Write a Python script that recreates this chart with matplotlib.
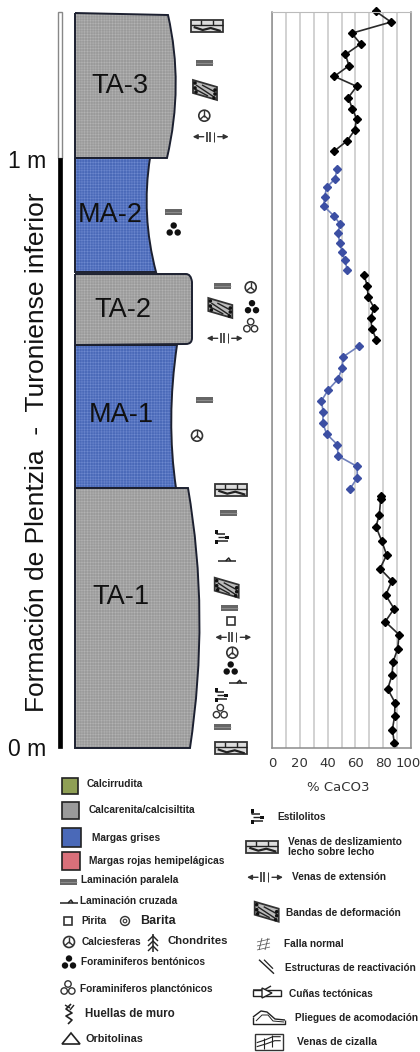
import matplotlib
matplotlib.use('Agg')
import matplotlib.pyplot as plt
from matplotlib.patches import PathPatch, Rectangle, Circle, Polygon
from matplotlib.path import Path

plt.rcParams['font.family'] = ['Liberation Sans', 'DejaVu Sans']

# CaCO3 curve, split by unit (height in m, % CaCO3)
ta3_h = [1.248, 1.230, 1.211, 1.193, 1.175, 1.156, 1.138, 1.121, 1.102, 1.083, 1.066, 1.047, 1.029, 1.011]
ta3_v = [74.8, 85.6, 57.3, 63.8, 52.8, 55.4, 44.8, 60.9, 54.9, 57.8, 60.9, 59.5, 54.2, 44.6]
ma2_h = [.981, .964, .950, .934, .918, .902, .888, .872, .856, .841, .827, .810]
ma2_v = [46.8, 45.3, 39.3, 37.9, 37.2, 44.4, 48.9, 47.5, 48.7, 50.4, 52.3, 54.2]
ta2_h = [.801, .783, .764, .746, .728, .710, .692]
ta2_v = [66.2, 68.6, 69.1, 73.4, 71.0, 71.9, 75.1]
ma1_h = [.681, .663, .644, .625, .607, .588, .569, .551, .532, .514, .495, .477, .458, .439]
ma1_v = [62.6, 51.3, 50.4, 47.5, 40.5, 35.5, 36.9, 36.5, 39.3, 47.0, 47.5, 61.2, 61.4, 56.1]
ta1_h = [.427, .422, .395, .375, .351, .327, .304, .283, .259, .236, .214, .192, .168, .146, .123, .100, .077, .054, .031, .009]
ta1_v = [78.2, 78.2, 77.2, 74.8, 78.9, 82.5, 77.7, 86.3, 81.8, 87.8, 81.5, 91.4, 90.4, 87.1, 86.3, 83.2, 88.5, 88.2, 86.6, 88.0]

unit_names = ['TA-3', 'MA-2', 'TA-2', 'MA-1', 'TA-1']
x_ticks = [0, 20, 40, 60, 80, 100]

GREY = '#9a9a9a'
BLUE = '#4a69b8'
RED = '#d9707a'
OLIVE = '#8f9f55'
TXT = '#222222'

fig = plt.figure(figsize=(4.2, 10.52), dpi=100)

# everything schematic is drawn in image pixels
bg = fig.add_axes([0, 0, 1, 1])
bg.set_xlim(0, 420)
bg.set_ylim(1052, 0)
bg.axis('off')


def column(verts, codes, fc):
    p = Path(verts, codes)
    hatch_col = '#b4b4b4' if fc == GREY else '#6f8ad0'
    bg.add_patch(PathPatch(p, fc=fc, ec=hatch_col, hatch='++++++', lw=0, zorder=2))
    bg.add_patch(PathPatch(p, fc='none', ec='#1c2030', lw=1.4, zorder=3))


M, L, C3, Z = Path.MOVETO, Path.LINETO, Path.CURVE3, Path.CLOSEPOLY
plt.rcParams['hatch.linewidth'] = 0.35

column([(75, 13), (168, 15), (184, 85), (167, 158), (75, 158), (75, 13)],
       [M, L, C3, C3, L, L], GREY)
column([(75, 158), (150, 158), (141, 215), (156, 272), (75, 272), (75, 158)],
       [M, L, C3, C3, L, L], BLUE)
column([(75, 274), (186, 274), (191, 274), (192, 282), (192, 338), (192, 344), (186, 344), (75, 345), (75, 274)],
       [M, L, C3, C3, L, C3, C3, L, L], GREY)
column([(75, 345), (177, 345), (166, 420), (176, 488), (75, 488), (75, 345)],
       [M, L, C3, C3, L, L], BLUE)
column([(75, 488), (188, 488), (210, 615), (190, 748), (75, 748), (75, 488)],
       [M, L, C3, C3, L, L], GREY)

for name, xc, yc in zip(unit_names, [120, 110, 123, 121, 121], [86, 215, 310, 415, 597]):
    bg.text(xc, yc, name, fontsize=19.5, ha='center', va='center', color='#111111', zorder=5)

# scale bar
bg.add_patch(Rectangle((57.5, 12), 4.5, 146, fc='white', ec='#888888', lw=1))
bg.add_patch(Rectangle((57.5, 158), 4.5, 590, fc='black', ec='black', lw=0.5))
bg.text(27.5, 161, '1 m', fontsize=16.5, ha='center', va='center', color='#111111')
bg.text(27.5, 749, '0 m', fontsize=16.5, ha='center', va='center', color='#111111')
bg.text(37, 452, 'Formación de Plentzia  -  Turoniense inferior', fontsize=19, rotation=90,
        ha='center', va='center', color='#111111')


# lithology / structure symbols
def line(xs, ys, lw=1, c='#222222'):
    bg.plot(xs, ys, color=c, lw=lw, solid_capstyle='butt', zorder=6)


def lam(x, y):
    bg.add_patch(Rectangle((x - 8.5, y - 3), 17, 6, fc='#666666', ec='none', zorder=6))
    line([x - 8.5, x + 8.5], [y, y], 0.4, '#aaaaaa')


def calci(x, y, r=5.5):
    bg.add_patch(Circle((x, y), r, fc='none', ec='#333333', lw=1.2, zorder=6))
    line([x, x], [y - r, y + 1], 1, '#333333')
    line([x - r * .75, x], [y + r * .65, y], 1, '#333333')
    line([x + r * .75, x], [y + r * .65, y], 1, '#333333')


def benth(x, y, r=3.2):
    for dx, dy in [(0, -4.5), (-4, 2.5), (4, 2.5)]:
        bg.add_patch(Circle((x + dx, y + dy), r, fc='#111111', ec='none', zorder=6))


def plank(x, y, r=3.2):
    for dx, dy in [(0, -5), (-3.8, 2), (3.8, 2)]:
        bg.add_patch(Circle((x + dx, y + dy), r, fc='white', ec='#333333', lw=1, zorder=6))


def venas(x, y):
    bg.add_patch(Rectangle((x - 16, y - 6), 32, 12, fc='#dddddd', ec='#333333', lw=1.3, zorder=6))
    line([x - 16, x + 16], [y - 1, y - 1], 1)
    line([x - 6, x - 6], [y - 6, y - 1], 1)
    line([x + 6, x + 6], [y - 6, y - 1], 1)
    line([x - 13, x - 4, x + 4, x + 14], [y + 1, y + 4, y + 2, y + 5], 1.6)


def bandas(x, y):
    bg.add_patch(Polygon([(x - 12, y - 10), (x + 12, y - 3), (x + 12, y + 10), (x - 12, y + 3)],
                         fc='#bbbbbb', ec='#333333', lw=1.3, zorder=6))
    line([x - 9, x + 9], [y - 5, y + 7], 1)
    line([x - 3, x + 10], [y - 5, y + 2], 1)
    line([x - 10, x + 3], [y - 1, y + 6], 1)
    for dx, dy in [(-10, -7), (-10, -2), (-9, 2), (10, 0), (10, 4), (9, 8)]:
        bg.add_patch(Circle((x + dx, y + dy), 1.8, fc='#111111', ec='none', zorder=7))


def ext(x, y):
    arrow = dict(arrowstyle='-|>', color='#333333', lw=1, mutation_scale=7, shrinkA=0, shrinkB=0)
    bg.annotate('', (x - 18, y), (x - 7, y), arrowprops=arrow)
    bg.annotate('', (x + 18, y), (x + 7, y), arrowprops=arrow)
    for dx, lw in [(-4, 1.2), (-1, 1.2), (3, 0.7)]:
        line([x + dx, x + dx], [y - 5, y + 5], lw, '#333333')


def estil(x, y):
    line([x - 6, x - 6, x + 2], [y - 7, y - 3, y - 3], 1.1)
    line([x - 6, x - 6, x + 5], [y + 7, y + 4, y + 4], 1.1)
    bg.add_patch(Rectangle((x - 7.5, y - 7.5), 3, 4, fc='#111111', zorder=6))
    bg.add_patch(Rectangle((x - 7.5, y + 3), 3, 4, fc='#111111', zorder=6))
    bg.add_patch(Rectangle((x + 2, y - 1), 4, 3, fc='#111111', zorder=6))
    line([x - 5, x + 3], [y, y], 1)


def cross(x, y):
    line([x - 9, x + 9], [y + 1, y + 1], 1.1)
    line([x - 1, x + 2, x + 4], [y + 1, y - 2, y + 1], 1.1)


def pirita(x, y, s=4):
    bg.add_patch(Rectangle((x - s, y - s), 2 * s, 2 * s, fc='white', ec='#333333', lw=1.2, zorder=6))


def barita(x, y):
    bg.add_patch(Circle((x, y), 4.5, fc='none', ec='#333333', lw=1, zorder=6))
    bg.add_patch(Circle((x, y), 1.8, fc='none', ec='#333333', lw=0.8, zorder=6))


def chondrites(x, y):
    line([x, x], [y - 9, y + 9], 1.1)
    for d in [-5, 0, 5]:
        line([x - 5, x, x + 5], [y + d + 3, y + d - 2, y + d + 3], 1)


def huellas(x, y):
    line([x + 2, x - 3, x + 3, x - 3, x + 3, x - 1], [y - 10, y - 5, y - 1, y + 2, y + 6, y + 10], 1.2)
    line([x - 4, x + 1], [y - 9, y - 6], 1)
    line([x + 5, x + 1], [y - 9, y - 4], 1)


def orbit(x, y):
    bg.add_patch(Polygon([(x - 9, y + 5), (x, y - 6), (x + 9, y + 5)], fc='white', ec='#222222', lw=1.2, zorder=6))


def falla(x, y):
    for d in [-4, 0, 4]:
        line([x - 6, x + 7], [y + d + 2, y + d - 1], 0.5, '#555555')
    line([x - 4, x - 1], [y + 6, y - 6], 0.6, '#555555')
    line([x + 2, x + 5], [y + 6, y - 6], 0.6, '#555555')


def reactiv(x, y):
    line([x - 8, x + 7], [y - 7, y + 7], 1)
    line([x - 3, x + 6], [y - 7, y + 2], 0.9)


def cunas(x, y):
    line([x - 14, x - 3, x + 4], [y - 3, y - 3, y - 7], 1)
    line([x - 14, x - 14, x + 14, x + 14], [y - 3, y + 3, y + 3, y - 3], 1)
    line([x - 14, x + 14], [y - 3, y - 3], 1)
    bg.add_patch(Polygon([(x - 5, y - 5), (x + 5, y), (x - 5, y + 5)], fc='white', ec='#222222', lw=1, zorder=7))


def pliegues(x, y):
    line([x - 15, x - 15, x + 17, x + 17], [y - 1, y + 6, y + 6, y + 2], 1)
    line([x - 15, x - 7, x - 1, x + 7, x + 17], [y - 1, y - 7, y - 6, y + 1, y + 2], 1)
    line([x - 12, x - 6, x, x + 5, x + 16], [y + 3, y - 3, y - 3, y + 3, y + 4], 0.7)


def cizalla(x, y):
    bg.add_patch(Rectangle((x - 14, y - 8), 28, 16, fc='white', ec='#333333', lw=1, zorder=6))
    line([x - 12, x - 3, x + 4, x + 12], [y + 1, y - 2, y - 5, y - 5], 0.8)
    line([x - 12, x - 2, x + 6, x + 12], [y + 5, y + 2, y - 1, y - 1], 0.8)
    line([x - 5, x - 5], [y - 4, y + 7], 0.8)
    line([x + 3, x + 3], [y - 7, y + 5], 0.8)


draw = dict(lam=lam, calci=calci, benth=benth, plank=plank, venas=venas, bandas=bandas, ext=ext,
            estil=estil, cross=cross, pirita=pirita)

column_symbols = [
    ('venas', 206.7, 26), ('lam', 204.3, 63), ('bandas', 205, 90), ('calci', 204.3, 115.7), ('ext', 210.7, 136.7),
    ('lam', 173.7, 212), ('benth', 173.7, 230),
    ('lam', 222.3, 286.3), ('calci', 250.7, 287.3), ('bandas', 220.3, 308), ('benth', 252, 307.7),
    ('plank', 250.7, 326.7), ('ext', 224.7, 338.3), ('lam', 204.3, 400), ('calci', 197, 435.7),
    ('venas', 231.3, 489.7), ('lam', 228, 512.7), ('estil', 222.7, 537.3), ('cross', 226.7, 560),
    ('bandas', 226.7, 587.7), ('lam', 229.3, 608), ('pirita', 230.7, 620.7), ('ext', 233.3, 637.3),
    ('calci', 232.3, 652.7), ('benth', 230.7, 669), ('cross', 237.7, 682.3), ('estil', 222, 695),
    ('plank', 220.3, 712.7), ('lam', 222.3, 727), ('venas', 230.7, 748.3),
]
for kind, x, y in column_symbols:
    draw[kind](x, y)

# legend, left block
for fc, xc, yc, s in [(OLIVE, 70, 786, 16), (GREY, 70, 810.7, 17), (BLUE, 71.3, 837.3, 19), (RED, 70.7, 861.3, 18)]:
    bg.add_patch(Rectangle((xc - s / 2, yc - s / 2), s, s, fc=fc, ec='#222222', lw=1.2, zorder=6))

left_labels = [
    ('Calcirrudita', 86.7, 784, 7.3), ('Calcarenita/calcisiltita', 89, 810, 7.3), ('Margas grises', 92, 838, 7.3),
    ('Margas rojas hemipelágicas', 88.7, 861, 7.3), ('Laminación paralela', 81, 880, 7.3),
    ('Laminación cruzada', 79.5, 901, 7.3), ('Pirita', 81, 921, 7.3), ('Barita', 140, 921, 9),
    ('Calciesferas', 82, 942, 7.3), ('Chondrites', 168, 941, 8.2), ('Foraminiferos bentónicos', 81, 962, 7.3),
    ('Foraminiferos planctónicos', 79.5, 989, 7.3), ('Huellas de muro', 85, 1014, 8.3), ('Orbitolinas', 86, 1039, 7.8),
]
right_labels = [
    ('Estilolitos', 277.3, 817, 7.3), ('Venas de deslizamiento', 288, 842, 7.3), ('lecho sobre lecho', 288, 852, 7.3),
    ('Venas de extensión', 292, 877, 7.3), ('Bandas de deformación', 286, 913, 7.3), ('Falla normal', 284, 944, 7.3),
    ('Estructuras de reactivación', 285, 968, 7.2), ('Cuñas tectónicas', 288.7, 994, 7.3),
    ('Pliegues de acomodación', 295, 1018, 7.2), ('Venas de cizalla', 297, 1042, 7.6),
]
for text, x, y, size in left_labels + right_labels:
    bg.text(x, y, text, fontsize=size, fontweight='bold', ha='left', va='center', color=TXT)

lam(68, 882)
cross(69, 902)
pirita(68, 921)
barita(125, 921)
calci(69, 942)
chondrites(153, 943)
benth(69, 963)
plank(68, 989)
huellas(69, 1014)
orbit(71, 1039)
estil(258, 816.7)
venas(262.3, 846.7)
ext(265, 877.3)
bandas(266.7, 911.7)
falla(263, 944)
reactiv(267, 966.7)
cunas(267, 993)
pliegues(268, 1018)
cizalla(268.7, 1041.7)

# CaCO3 chart
ax = fig.add_axes([272 / 420, 1 - 748 / 1052, 139 / 420, 736 / 1052])
ax.set_xlim(0, 100)
ax.set_ylim(0, 1.247)
ax.patch.set_alpha(0)
ax.set_xticks(range(0, 101, 10), minor=True)
ax.set_xticks(x_ticks)
# last label goes in by hand, slid left so it stays on the canvas
ax.set_xticklabels([str(t) for t in x_ticks[:-1]] + [''], fontsize=9.5, color='#333333', family=['DejaVu Sans'])
ax.annotate(str(x_ticks[-1]), (x_ticks[-1], 0), xycoords='data', xytext=(-2, -6.5), textcoords='offset points',
            ha='center', va='top', fontsize=9.5, color='#333333', family=['DejaVu Sans'], annotation_clip=False)
ax.set_yticks([])
ax.grid(True, axis='x', which='both', color='#c6c6c6', lw=1.1)
ax.tick_params(axis='x', which='both', length=0, pad=6.5)
ax.set_axisbelow(True)
for side in ['left', 'right', 'bottom']:
    ax.spines[side].set_color('#8c8c8c')
    ax.spines[side].set_linewidth(1.1)
ax.spines['top'].set_color('#bbbbbb')
ax.set_xlabel('% CaCO3', fontsize=9.5, color='#333333', labelpad=8, x=0.476, family=['DejaVu Sans'])

for h, v in [(ta3_h, ta3_v), (ta2_h, ta2_v), (ta1_h, ta1_v)]:
    ax.plot(v, h, color='#2a2a2a', lw=1.2, marker='D', ms=4, mfc='black', mec='black', clip_on=False)
for h, v in [(ma2_h, ma2_v), (ma1_h, ma1_v)]:
    ax.plot(v, h, color='#6f80bb', lw=1.2, marker='D', ms=4, mfc='#3c4fa3', mec='#3c4fa3', clip_on=False)

fig.savefig('out.png', dpi=100)
